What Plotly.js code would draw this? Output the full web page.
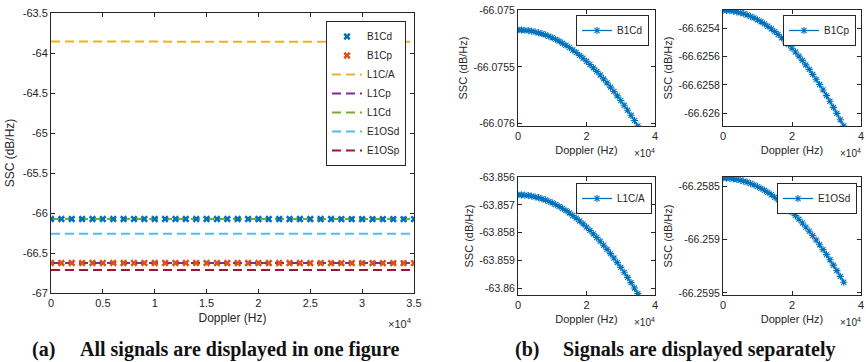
<!DOCTYPE html>
<html>
<head>
<meta charset="utf-8">
<script src="https://cdn.plot.ly/plotly-3.0.1.min.js"></script>
<style>html,body{margin:0;padding:0;background:#fff;}#chart{width:866px;height:362px;}</style>
</head>
<body>
<div id="chart"></div>
<script>
// ---------- DATA ----------
var doppler = [0,1000,2000,3000,4000,5000,6000,7000,8000,9000,10000,11000,12000,13000,14000,15000,16000,17000,18000,19000,20000,21000,22000,23000,24000,25000,26000,27000,28000,29000,30000,31000,32000,33000,34000,35000];

var B1Cd = [-66.075175,-66.075176,-66.075178,-66.075181,-66.075186,-66.075192,-66.075200,-66.075209,-66.075219,-66.075231,-66.075244,-66.075258,-66.075274,-66.075292,-66.075310,-66.075330,-66.075352,-66.075374,-66.075399,-66.075424,-66.075451,-66.075479,-66.075509,-66.075540,-66.075572,-66.075606,-66.075641,-66.075678,-66.075716,-66.075755,-66.075796,-66.075838,-66.075881,-66.075926,-66.075972,-66.076020];

var B1Cp = [-66.625272,-66.625273,-66.625275,-66.625278,-66.625283,-66.625289,-66.625296,-66.625305,-66.625315,-66.625326,-66.625339,-66.625353,-66.625368,-66.625385,-66.625403,-66.625423,-66.625443,-66.625466,-66.625489,-66.625514,-66.625540,-66.625567,-66.625596,-66.625626,-66.625658,-66.625690,-66.625725,-66.625760,-66.625797,-66.625835,-66.625875,-66.625915,-66.625958,-66.626001,-66.626046,-66.626090];

var L1CA = [-63.856640,-63.856643,-63.856652,-63.856666,-63.856686,-63.856712,-63.856744,-63.856782,-63.856825,-63.856875,-63.856930,-63.856991,-63.857057,-63.857130,-63.857208,-63.857292,-63.857382,-63.857478,-63.857579,-63.857686,-63.857799,-63.857918,-63.858043,-63.858173,-63.858309,-63.858451,-63.858599,-63.858753,-63.858912,-63.859077,-63.859248,-63.859425,-63.859608,-63.859796,-63.859990,-63.860190];

var E1OSd = [-66.258420,-66.258421,-66.258423,-66.258427,-66.258433,-66.258440,-66.258449,-66.258459,-66.258471,-66.258485,-66.258500,-66.258517,-66.258535,-66.258555,-66.258577,-66.258600,-66.258625,-66.258651,-66.258679,-66.258709,-66.258740,-66.258773,-66.258807,-66.258843,-66.258881,-66.258920,-66.258961,-66.259003,-66.259047,-66.259093,-66.259140,-66.259189,-66.259239,-66.259291,-66.259345,-66.259400];

// signals only shown in the combined figure (read at its coarse scale)
var dopplerEnds = [0, 35000];
var L1Cp  = [-66.6252, -66.6260];
var L1Cd  = [-66.0751, -66.0759];
var E1OSp = [-66.7120, -66.7129];

// tick labels
var mainXTickVals = [0,5000,10000,15000,20000,25000,30000,35000];
var mainXTickText = ['0','0.5','1','1.5','2','2.5','3','3.5'];
var mainYTickVals = [-67,-66.5,-66,-65.5,-65,-64.5,-64,-63.5];
var mainYTickText = ['-67','-66.5','-66','-65.5','-65','-64.5','-64','-63.5'];
var subXTickVals = [0,20000,40000];
var subXTickText = ['0','2','4'];
var b1cdTickVals = [-66.076,-66.0755,-66.075];
var b1cdTickText = ['-66.076','-66.0755','-66.075'];
var b1cpTickVals = [-66.626,-66.6258,-66.6256,-66.6254];
var b1cpTickText = ['-66.626','-66.6258','-66.6256','-66.6254'];
var l1caTickVals = [-63.86,-63.859,-63.858,-63.857,-63.856];
var l1caTickText = ['-63.86','-63.859','-63.858','-63.857','-63.856'];
var e1osdTickVals = [-66.2595,-66.259,-66.2585];
var e1osdTickText = ['-66.2595','-66.259','-66.2585'];

// ---------- STYLE ----------
var C = {blue:'#0072BD', orange:'#D95319', yellow:'#EDB120', purple:'#7E2F8E', green:'#77AC30', cyan:'#4DBEEE', red:'#A2142F'};
var FONT = 'Liberation Sans, Arial, sans-serif';
var ink = '#262626';
var W = 866, H = 362;
function px(x){ return x / W; }
function py(y){ return 1 - y / H; }

function axisBase(extra){
  var a = {showline:true, linecolor:ink, linewidth:1, mirror:'ticks', ticks:'inside', ticklen:4,
           tickcolor:ink, showgrid:false, zeroline:false, tickfont:{family:FONT, size:11, color:ink},
           tickmode:'array', fixedrange:true};
  for (var k in extra) a[k] = extra[k];
  return a;
}

var dash = '9px,5px';
var mainTraces = [
  {x:doppler, y:B1Cd, name:'B1Cd', legendrank:1, mode:'markers', marker:{symbol:'x', size:6.5, color:C.blue, line:{width:0}}, xaxis:'x', yaxis:'y', legend:'legend'},
  {x:doppler, y:B1Cp, name:'B1Cp', legendrank:2, mode:'markers', marker:{symbol:'x', size:6.5, color:C.orange, line:{width:0}}, xaxis:'x', yaxis:'y', legend:'legend'},
  {x:doppler, y:L1CA, name:'L1C/A', legendrank:3, mode:'lines', line:{color:C.yellow, width:2, dash:dash}, xaxis:'x', yaxis:'y', legend:'legend'},
  {x:dopplerEnds, y:L1Cp, name:'L1Cp', legendrank:4, mode:'lines', line:{color:C.purple, width:2, dash:dash}, xaxis:'x', yaxis:'y', legend:'legend'},
  {x:dopplerEnds, y:L1Cd, name:'L1Cd', legendrank:5, mode:'lines', line:{color:C.green, width:2, dash:dash}, xaxis:'x', yaxis:'y', legend:'legend'},
  {x:doppler, y:E1OSd, name:'E1OSd', legendrank:6, mode:'lines', line:{color:C.cyan, width:2, dash:dash}, xaxis:'x', yaxis:'y', legend:'legend'},
  {x:dopplerEnds, y:E1OSp, name:'E1OSp', legendrank:7, mode:'lines', line:{color:C.red, width:2, dash:dash}, xaxis:'x', yaxis:'y', legend:'legend'}
];
// markers are drawn over the dashed lines, as in the reference
var traces = [mainTraces[2],mainTraces[3],mainTraces[4],mainTraces[5],mainTraces[6],mainTraces[0],mainTraces[1]];

var subLine = {color:C.blue, width:1.3};
var subMarker = {symbol:'asterisk-open', size:6, color:C.blue, line:{width:1.1, color:C.blue}};
function sub(y, name, xa, ya, lg){
  return {x:doppler, y:y, name:name, mode:'lines+markers', line:subLine, marker:subMarker, xaxis:xa, yaxis:ya, legend:lg};
}
traces.push(sub(B1Cd, 'B1Cd', 'x2', 'y2', 'legend2'));
traces.push(sub(B1Cp, 'B1Cp', 'x3', 'y3', 'legend3'));
traces.push(sub(L1CA, 'L1C/A', 'x4', 'y4', 'legend4'));
traces.push(sub(E1OSd, 'E1OSd', 'x5', 'y5', 'legend5'));

var sx1 = [px(518), px(655)], sx2 = [px(723), px(861)];
var syTop = [py(126), py(10)], syBot = [py(295), py(177)];

function subX(dom, anchor){
  return axisBase({domain:dom, anchor:anchor, range:[0,40000], tickvals:subXTickVals, ticktext:subXTickText,
    tickfont:{family:FONT, size:11, color:ink},
    title:{text:'Doppler (Hz)', font:{family:FONT, size:11, color:ink}, standoff:5}});
}
function subY(dom, anchor, range, tv, tt){
  return axisBase({domain:dom, anchor:anchor, range:range, tickvals:tv, ticktext:tt,
    tickfont:{family:FONT, size:10.5, color:ink},
    title:{text:'SSC (dB/Hz)', font:{family:FONT, size:11, color:ink}, standoff:3}});
}
function legendStyle(xr, yt){
  return {x:xr, y:yt, xanchor:'right', yanchor:'top', bgcolor:'#ffffff', bordercolor:ink, borderwidth:1,
          font:{family:FONT, size:10, color:ink}, itemwidth:30, tracegroupgap:0};
}

var serif = 'Liberation Serif, Times New Roman, serif';
function caption(t, x){
  return {text:'<b>'+t+'</b>', x:px(x), y:py(349), xref:'paper', yref:'paper', xanchor:'left', yanchor:'middle', showarrow:false, font:{family:serif, size:20, color:'#111'}};
}
function expo(x, y, s){
  return {text:'×10<sup>4</sup>', x:px(x), y:py(y), xref:'paper', yref:'paper', xanchor:'right', yanchor:'middle', showarrow:false, font:{family:FONT, size:s, color:ink}};
}

var layout = {
  width:W, height:H, margin:{l:0, r:0, t:0, b:0}, paper_bgcolor:'#ffffff', plot_bgcolor:'#ffffff',
  showlegend:true, font:{family:FONT, color:ink},
  xaxis: axisBase({domain:[px(51), px(414)], anchor:'y', range:[0,35000], tickvals:mainXTickVals, ticktext:mainXTickText,
    title:{text:'Doppler (Hz)', font:{family:FONT, size:12, color:ink}, standoff:5}}),
  yaxis: axisBase({domain:[py(293), py(13)], anchor:'x', range:[-67,-63.5], tickvals:mainYTickVals, ticktext:mainYTickText,
    title:{text:'SSC (dB/Hz)', font:{family:FONT, size:12, color:ink}, standoff:5}}),
  xaxis2: subX(sx1, 'y2'), yaxis2: subY(syTop, 'x2', [-66.07602,-66.075], b1cdTickVals, b1cdTickText),
  xaxis3: subX(sx2, 'y3'), yaxis3: subY(syTop, 'x3', [-66.62609,-66.62527], b1cpTickVals, b1cpTickText),
  xaxis4: subX(sx1, 'y4'), yaxis4: subY(syBot, 'x4', [-63.86024,-63.856], l1caTickVals, l1caTickText),
  xaxis5: subX(sx2, 'y5'), yaxis5: subY(syBot, 'x5', [-66.25952,-66.25841], e1osdTickVals, e1osdTickText),
  legend: legendStyle(px(406), py(21)),
  legend2: legendStyle(px(649), py(15)),
  legend3: legendStyle(px(856), py(15)),
  legend4: legendStyle(px(652), py(183)),
  legend5: legendStyle(px(857), py(183)),
  annotations: [
    expo(414, 323, 11), expo(657, 153, 10), expo(863, 153, 10), expo(657, 322, 10), expo(863, 322, 10),
    caption('(a)', 30), caption('All signals are displayed in one figure', 78),
    caption('(b)', 513), caption('Signals are displayed separately', 561)
  ]
};

Plotly.newPlot('chart', traces, layout, {displayModeBar:false, staticPlot:true});
</script>
</body>
</html>
